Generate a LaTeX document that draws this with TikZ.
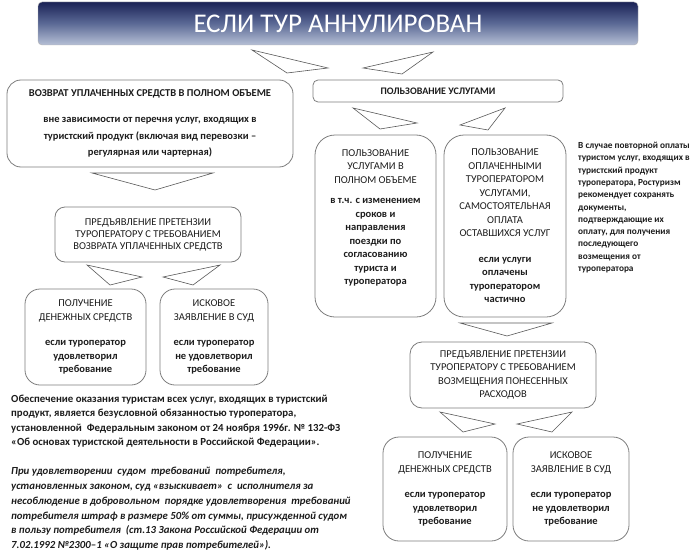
\documentclass[tikz,border=0pt]{standalone}
\usepackage{fontspec}
\setmainfont{Carlito}
\usepackage{tikz}
\usetikzlibrary{positioning}
\definecolor{frame}{RGB}{125,125,125}
\definecolor{ink}{RGB}{28,28,28}
\definecolor{navytop}{RGB}{26,34,86}
\definecolor{navymid}{RGB}{92,106,150}
\definecolor{navybot}{RGB}{182,192,214}

\begin{document}
\begin{tikzpicture}[x=1pt,y=-1pt,
   font=\fontsize{10.5}{13.5}\selectfont,
   head/.style={rounded corners=4pt,draw=black!30,top color=navytop,bottom color=navybot,middle color=navymid,
     minimum width=600pt,minimum height=43pt,text=white,font=\fontsize{27}{30}\selectfont},
   box/.style={draw=frame,line width=0.8pt,rounded corners=12pt,align=center,inner sep=0pt,text=ink},
   tri/.style={draw=black!65,line width=0.6pt,line join=miter,fill=white},
   note/.style={anchor=north west,align=left,inner sep=0pt,text=ink}]
  \useasboundingbox (0,0) rectangle (700,559);
  \node[head] (title) at (338,23.5) {ЕСЛИ ТУР АННУЛИРОВАН};
  \node[box,minimum width=286pt,minimum height=87pt,rounded corners=14pt,
    font=\fontsize{10.5}{16.5}\selectfont\bfseries] (refund) at (150,123.5)
    {ВОЗВРАТ УПЛАЧЕННЫХ СРЕДСТВ В ПОЛНОМ ОБЪЕМЕ\\[10pt]
     вне зависимости от перечня услуг, входящих в\\
     туристский продукт (включая вид перевозки –\\
     регулярная или чартерная)};
  \node[box,minimum width=250pt,minimum height=22pt,rounded corners=5pt,font=\fontsize{10}{13}\selectfont\bfseries]
    (usage) at (438,91) {ПОЛЬЗОВАНИЕ УСЛУГАМИ};
  \node[box,minimum width=186pt,minimum height=55pt,rounded corners=10pt,font=\fontsize{10.5}{12}\selectfont]
    (claim) at (148,234.5)
    {ПРЕДЪЯВЛЕНИЕ ПРЕТЕНЗИИ\\ТУРОПЕРАТОРУ С ТРЕБОВАНИЕМ\\ВОЗВРАТА УПЛАЧЕННЫХ СРЕДСТВ};
  \node[box,minimum width=121pt,minimum height=96pt,rounded corners=15pt] (money) at (85.5,337)
    {ПОЛУЧЕНИЕ\\ДЕНЕЖНЫХ СРЕДСТВ\\[12pt]\textbf{если туроператор}\\\textbf{удовлетворил}\\\textbf{требование}};
  \node[box,minimum width=108pt,minimum height=96pt,rounded corners=15pt] (court) at (214,337)
    {ИСКОВОЕ\\ЗАЯВЛЕНИЕ В СУД\\[12pt]\textbf{если туроператор}\\\textbf{не удовлетворил}\\\textbf{требование}};
  \node[box,minimum width=121pt,minimum height=182pt,rounded corners=20pt] (fulluse) at (375.5,226)
    {ПОЛЬЗОВАНИЕ\\УСЛУГАМИ В\\ПОЛНОМ ОБЪЕМЕ\\[7pt]\textbf{в т.ч. с изменением}\\\textbf{сроков и}\\
     \textbf{направления}\\\textbf{поездки по}\\\textbf{согласованию}\\\textbf{туриста и}\\\textbf{туроператора}\\[4pt]\mbox{}};
  \node[box,minimum width=122pt,minimum height=182pt,rounded corners=20pt] (partuse) at (505,226)
    {ПОЛЬЗОВАНИЕ\\ОПЛАЧЕННЫМИ\\ТУРОПЕРАТОРОМ\\УСЛУГАМИ,\\САМОСТОЯТЕЛЬНАЯ\\ОПЛАТА\\ОСТАВШИХСЯ УСЛУГ\\[12pt]
     \textbf{если услуги}\\\textbf{оплачены}\\\textbf{туроператором}\\\textbf{частично}};
  \node[note,font=\fontsize{9.3}{12.3}\selectfont\bfseries] (advice) at (578,142)
    {В случае повторной оплаты\\туристом услуг, входящих в\\туристский продукт\\туроператора, Ростуризм\\
     рекомендует сохранять\\документы,\\подтверждающие их\\оплату, для получения\\последующего\\
     возмещения от\\туроператора};
  \node[box,minimum width=186pt,minimum height=66pt,rounded corners=12pt] (refclaim) at (503,375)
    {ПРЕДЪЯВЛЕНИЕ ПРЕТЕНЗИИ\\ТУРОПЕРАТОРУ С ТРЕБОВАНИЕМ\\ВОЗМЕЩЕНИЯ ПОНЕСЕННЫХ\\РАСХОДОВ};
  \node[box,minimum width=124pt,minimum height=104pt,rounded corners=16pt] (money2) at (445,489)
    {ПОЛУЧЕНИЕ\\ДЕНЕЖНЫХ СРЕДСТВ\\[12pt]\textbf{если туроператор}\\\textbf{удовлетворил}\\\textbf{требование}};
  \node[box,minimum width=116pt,minimum height=104pt,rounded corners=16pt] (court2) at (571,489)
    {ИСКОВОЕ\\ЗАЯВЛЕНИЕ В СУД\\[12pt]\textbf{если туроператор}\\\textbf{не удовлетворил}\\\textbf{требование}};
  \node[note,font=\fontsize{10.8}{14.2}\selectfont\bfseries] (duty) at (11,395)
    {Обеспечение оказания туристам всех услуг, входящих в туристский\\
     продукт, является безусловной обязанностью туроператора,\\
     установленной~ Федеральным законом от 24 ноября 1996г. № 132-ФЗ\\
     «Об основах туристской деятельности в Российской Федерации».};
  \node[note,font=\fontsize{10.8}{14.8}\selectfont\bfseries\itshape] (fine) at (11,467)
    {При удовлетворении~ судом~ требований~ потребителя,\\
     установленных законом, суд «взыскивает»~ с~ исполнителя за\\
     несоблюдение в добровольном~ порядке удовлетворения~ требований\\
     потребителя штраф в размере 50\% от суммы, присужденной судом\\
     в пользу потребителя~ (ст.13 Закона Российской Федерации от\\
     7.02.1992 №2300–1 «О защите прав потребителей»).};
  \draw[tri] (252,50) -- (287,73) -- (328,68) -- cycle;
  \draw[tri] (433,52) -- (363,68) -- (402,74) -- cycle;
  \draw[tri] (92,173) -- (213,173) -- (155,190) -- cycle;
  \draw[tri] (87,265) -- (110,285) -- (142,277) -- cycle;
  \draw[tri] (220,265) -- (163,277) -- (193,285) -- cycle;
  \draw[tri] (353,108) -- (380,129) -- (417,123) -- cycle;
  \draw[tri] (505,108) -- (460,125) -- (488,130) -- cycle;
  \draw[tri] (460,323) -- (552,323) -- (507,336) -- cycle;
  \draw[tri] (440,412) -- (463,432) -- (495,424) -- cycle;
  \draw[tri] (572,412) -- (517,424) -- (552,432) -- cycle;
\end{tikzpicture}
\end{document}
